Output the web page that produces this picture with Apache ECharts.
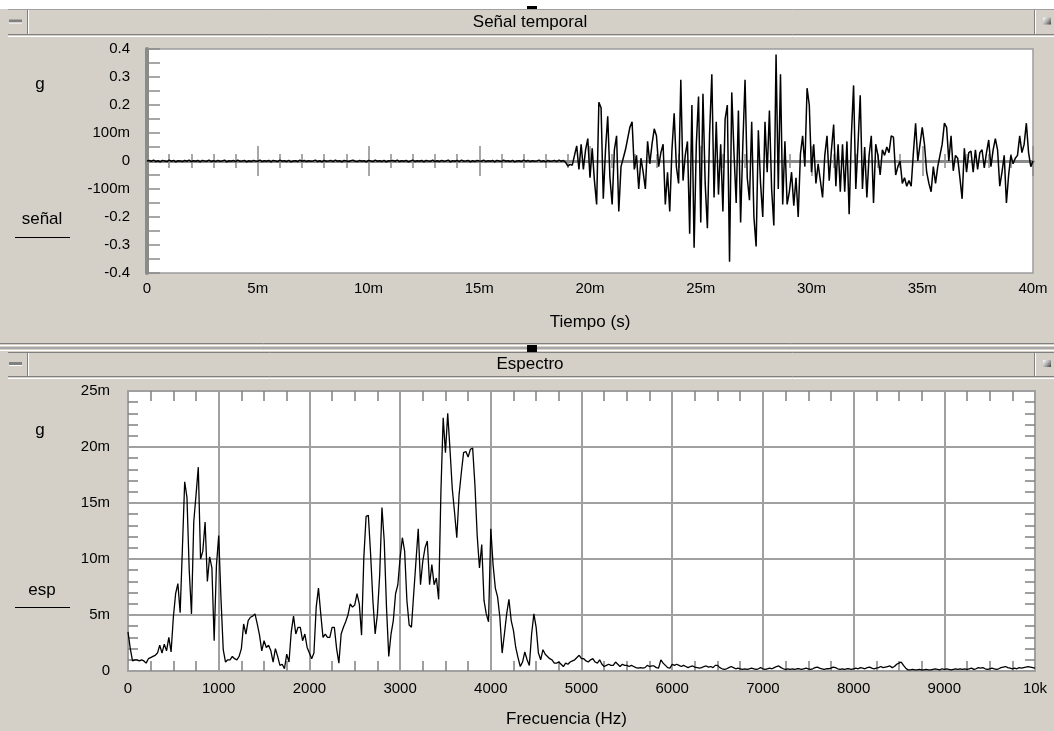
<!DOCTYPE html>
<html><head><meta charset="utf-8">
<script src="https://cdn.jsdelivr.net/npm/echarts@6/dist/echarts.min.js"></script>
<style>html,body{margin:0;padding:0;background:#d4d0c8;overflow:hidden}#c{width:1054px;height:731px}</style>
</head><body><div id="c"></div>
<script>
// ---- tick labels ----
const timeLabels = ['0','5m','10m','15m','20m','25m','30m','35m','40m'];
const sigYLabels = ['-0.4','-0.3','-0.2','-100m','0','100m','0.2','0.3','0.4'];
const freqLabels = ['0','1000','2000','3000','4000','5000','6000','7000','8000','9000','10k'];
const specYLabels = ['0','5m','10m','15m','20m','25m'];

// ---- time signal (mg), one value every 0.1 ms ----
const sigStepMs = 0.1;
const signalQuiet = [
0,2,-1,3,-2,1,-3,2,0,-2,3,-1,2,-3,1,0,-2,2,-1,3,
-2,1,-1,2,-3,2,0,-1,3,-2,1,-2,2,-1,0,3,-3,1,-1,2,
-2,3,-1,0,2,-3,1,-2,2,0,-1,3,-2,1,-1,2,-3,2,0,-2,
3,-1,1,-2,2,-3,0,1,-2,3,-1,2,-2,1,-1,0,3,-2,1,-3,
2,-1,0,2,-2,3,-1,1,-3,2,0,-2,1,3,-1,-2,2,-1,1,-3,
2,0,-2,3,-1,1,-2,2,-3,1,0,2,-1,3,-2,1,-1,2,-3,0,
3,-2,1,-1,2,-3,2,0,-1,3,-2,1,-2,2,-1,0,3,-3,1,-1,
2,-2,3,-1,0,2,-3,1,-2,2,0,-1,3,-2,1,-1,2,-3,2,0,
-2,3,-1,1,-2,2,-3,0,1,-2,3,-1,2,-2,1,-1,0,3,-2,1,
-3,2,-1,0,2,-2,3,-1
];
const signalActive = [
2,-5,
-18,-12,-15,20,54,-30,60,-30,40,80,
-60,45,-70,-155,210,190,-135,40,160,-60,
-155,40,90,-180,-20,10,40,80,120,140,
-30,20,-100,10,-40,-100,70,-10,60,115,
90,-20,30,60,-155,-40,-180,40,170,-20,
-80,290,-70,20,70,-260,200,-310,60,230,
-220,240,-80,-240,100,310,-130,140,-120,60,
-180,150,200,-360,245,30,-150,180,-220,60,
290,-60,-140,140,-200,-305,110,-80,-200,140,
-40,180,-100,-230,380,-100,310,-155,70,-155,
-110,-40,-160,-60,-200,25,90,-20,260,200,
-40,60,-80,-10,-70,-130,20,90,-70,40,
130,-90,60,-110,60,-110,70,-190,90,270,
-100,60,235,-100,50,-130,20,90,-150,60,
20,-50,40,20,50,30,90,85,-50,-20,
0,-80,-60,-90,-70,-90,30,135,0,60,
120,60,-40,-80,-110,-20,-80,-20,20,60,
135,120,0,90,-35,20,10,-60,-135,45,
-40,30,35,-40,40,-30,30,40,-25,30,
75,-20,40,80,40,-90,-40,20,-150,-50,
20,-10,10,20,90,30,60,135,30,-20,
0
];

// ---- spectrum (mg), one value every 25 Hz ----
const freqStepHz = 25;
const spectrumLow = [
3.5,2.0,0.9,1.0,1.0,0.9,1.0,0.9,0.7,1.1,
1.2,1.3,1.4,1.6,2.3,1.6,2.4,1.8,3.0,1.7,
4.8,6.9,7.8,5.2,11.0,16.9,15.5,9.0,5.1,13.3,
15.7,18.2,10.0,10.7,13.3,8.0,10.2,9.2,2.7,9.4,
12.1,6.5,1.9,0.8,1.0,1.0,1.3,1.1,1.0,1.3,
2.0,4.2,3.3,4.5,4.8,4.9,5.1,4.2,3.2,1.8,
2.7,2.1,2.3,1.8,0.8,2.0,1.3,0.5,0.6,0.2,
1.5,0.8,3.5,4.9,3.3,3.9,3.9,2.7,3.3,2.1,
1.6,1.1,1.6,5.7,7.4,5.1,3.0,3.3,3.0,3.0,
3.9,3.9,2.0,0.7,3.3,3.9,4.4,5.0,6.0,5.7,
5.9,6.9,6.0,3.2,10.1,13.8,13.9,10.4,6.3,3.3,
5.1,8.6,14.6,11.6,5.7,1.3,3.3,4.5,6.9,7.7,
10.1,11.9,10.7,6.3,4.1,3.9,6.9,9.8,12.7,7.7,
9.8,11.0,11.6,7.7,9.5,7.7,8.3,6.4,16.0,22.6,
19.5,23.0,19.8,16.3,14.2,11.9,15.7,17.7,19.5,19.6,
19.1,19.8,19.9,16.6,12.1,9.2,11.3,6.3,5.1,4.4,
12.7,9.5,7.4,6.6,4.8,1.6,3.3,5.1,6.4,4.5,
3.6,2.1,1.2,0.4,0.8,1.7,1.0,0.5,3.3,5.1,
3.9,1.6,1.0,1.9,1.5,1.3,1.1,1.0,0.7,0.7,
0.8,0.6,0.4,0.7,0.6,0.8,0.9,1.0,1.2,1.4
];
const spectrumHigh = [
1.1,1.1,0.9,0.8,1.0,1.1,0.8,0.7,1.0,0.6,
0.4,0.5,0.6,0.5,0.5,0.8,0.6,0.4,0.6,0.5,
0.5,0.4,0.5,0.4,0.3,0.25,0.3,0.25,0.3,0.5,
0.4,0.45,0.45,0.3,0.25,1.0,0.7,0.5,0.3,0.25,
0.6,0.5,0.6,0.5,0.4,0.5,0.4,0.3,0.4,0.45,
0.35,0.3,0.25,0.3,0.4,0.45,0.35,0.4,0.3,0.5,
0.5,0.3,0.2,0.15,0.2,0.3,0.4,0.3,0.2,0.25,
0.2,0.15,0.2,0.15,0.2,0.25,0.2,0.15,0.2,0.3,
0.2,0.15,0.2,0.25,0.2,0.3,0.4,0.45,0.3,0.2,
0.15,0.2,0.15,0.2,0.15,0.2,0.2,0.15,0.2,0.25,
0.2,0.15,0.2,0.3,0.35,0.25,0.2,0.15,0.2,0.2,
0.25,0.35,0.3,0.2,0.15,0.2,0.15,0.2,0.2,0.15,
0.2,0.25,0.2,0.3,0.25,0.2,0.3,0.35,0.25,0.2,
0.25,0.3,0.4,0.3,0.35,0.4,0.45,0.3,0.4,0.6,
0.7,0.8,0.5,0.25,0.1,0.1,0.15,0.1,0.1,0.15,
0.1,0.1,0.15,0.1,0.1,0.15,0.2,0.15,0.1,0.2,
0.15,0.2,0.15,0.1,0.15,0.2,0.15,0.2,0.15,0.2,
0.15,0.2,0.25,0.15,0.2,0.3,0.25,0.3,0.2,0.15,
0.2,0.25,0.2,0.15,0.2,0.3,0.35,0.4,0.3,0.25,
0.2,0.25,0.2,0.3,0.25,0.3,0.35,0.4,0.35,0.3,
0.25
];

const signal = signalQuiet.concat(signalActive);
const spectrum = spectrumLow.concat(spectrumHigh);
const sigData = signal.map((v, i) => [Math.round(i * sigStepMs * 100) / 100, v]);
const specData = spectrum.map((v, i) => [i * freqStepHz, v]);

const FONT = '"Liberation Sans", Arial, sans-serif';
const GRAY = '#8a8a8a';
const TICK = '#808080';

function hline(x1, x2, y, color, w) {
  return { type: 'line', silent: true, shape: { x1: x1, y1: y, x2: x2, y2: y }, style: { stroke: color, lineWidth: w || 1 } };
}
function vline(x, y1, y2, color) {
  return { type: 'line', silent: true, shape: { x1: x, y1: y1, x2: x, y2: y2 }, style: { stroke: color, lineWidth: 1 } };
}
function box(x, y, w, h, fill) {
  return { type: 'rect', silent: true, shape: { x: x, y: y, width: w, height: h }, style: { fill: fill } };
}
function txt(x, y, s, size) {
  return { type: 'text', silent: true, x: x, y: y, style: { text: s, font: (size || 17) + 'px ' + FONT, fill: '#000', align: 'center', verticalAlign: 'middle' } };
}
function icon(x, y) {
  return { type: 'rect', silent: true, shape: { x: x, y: y, width: 8, height: 7 },
    style: { fill: new echarts.graphic.LinearGradient(0, 0, 1, 1, [{ offset: 0, color: '#ffffff' }, { offset: 0.5, color: '#b0b0b0' }, { offset: 1, color: '#404040' }]) } };
}
function titleBar(yTop, yBot, title) {
  const els = [];
  els.push(hline(8, 1054, yBot + 0.5, '#808080'));
  els.push(hline(8, 1054, yBot + 2.5, '#ffffff'));
  els.push(vline(27.5, yTop + 1, yBot, '#808080'));
  els.push(vline(28.5, yTop + 1, yBot, '#ffffff'));
  els.push(vline(1034.5, yTop + 1, yBot, '#808080'));
  els.push(vline(1035.5, yTop + 1, yBot, '#ffffff'));
  els.push(box(9, (yTop + yBot) / 2 - 2, 13, 3, '#808080'));
  els.push(box(9, (yTop + yBot) / 2 + 1, 13, 1, '#ffffff'));
  els.push(icon(1043, (yTop + yBot) / 2 - 4));
  els.push(txt(530, (yTop + yBot) / 2 + 0.5, title, 17));
  return els;
}

const graphics = [
  box(0, 0, 1054, 9, '#ffffff'),
  hline(8, 1054, 9.5, '#a0a0a0'),
  box(527, 6, 10, 3, '#000000'),
  hline(0, 1054, 343.5, '#808080'),
  hline(0, 1054, 345.5, '#ffffff'),
  hline(0, 1054, 348, '#a8a8a8', 2),
  hline(0, 1054, 350.5, '#ffffff'),
  hline(8, 1054, 352.5, '#808080'),
  box(527, 345, 10, 7, '#000000'),
  txt(40, 84, 'g', 17),
  txt(42, 219, 'señal', 17),
  hline(15, 70, 237.5, '#000000'),
  txt(40, 430, 'g', 17),
  txt(42, 590, 'esp', 17),
  hline(15, 70, 607.5, '#000000')
].concat(titleBar(9, 34, 'Señal temporal'), titleBar(352, 376, 'Espectro'));

const lbl = { color: '#000', fontSize: 15, fontFamily: FONT };

const option = {
  animation: false,
  backgroundColor: '#d4d0c8',
  textStyle: { fontFamily: FONT },
  graphic: { elements: graphics },
  grid: [
    { left: 147, right: 21, top: 49, bottom: 458, show: true, backgroundColor: '#ffffff', borderColor: '#9c9c9c', borderWidth: 1.5, containLabel: false, outerBoundsMode: 'none' },
    { left: 128, right: 19, top: 391, bottom: 60, show: true, backgroundColor: '#ffffff', borderColor: '#a0a0a0', borderWidth: 2, containLabel: false, outerBoundsMode: 'none' }
  ],
  xAxis: [
    { gridIndex: 0, type: 'value', min: 0, max: 40, interval: 5, position: 'bottom',
      axisLine: { show: false, onZero: false }, axisTick: { show: false }, splitLine: { show: false },
      axisLabel: Object.assign({ margin: 8, formatter: v => timeLabels[Math.round(v / 5)] }, lbl),
      name: 'Tiempo (s)', nameLocation: 'middle', nameGap: 41,
      nameTextStyle: { color: '#000', fontSize: 17, fontFamily: FONT } },
    { gridIndex: 0, type: 'value', min: 0, max: 40, interval: 5, position: 'bottom',
      axisLine: { show: true, onZero: true, onZeroAxisIndex: 0, lineStyle: { color: GRAY, width: 3 } },
      axisTick: { show: true, inside: true, length: 15, lineStyle: { color: GRAY, width: 1.5 } },
      minorTick: { show: true, splitNumber: 5, length: 7, lineStyle: { color: GRAY, width: 1.5 } },
      axisLabel: { show: false }, splitLine: { show: false } },
    { gridIndex: 0, type: 'value', min: 0, max: 40, interval: 5, position: 'bottom',
      axisLine: { show: true, onZero: true, onZeroAxisIndex: 0, lineStyle: { color: GRAY, width: 3 } },
      axisTick: { show: true, inside: false, length: 15, lineStyle: { color: GRAY, width: 1.5 } },
      minorTick: { show: true, splitNumber: 5, length: 7, lineStyle: { color: GRAY, width: 1.5 } },
      axisLabel: { show: false }, splitLine: { show: false } },
    { gridIndex: 1, type: 'value', min: 0, max: 10000, interval: 1000, position: 'bottom',
      axisLine: { show: false, onZero: false }, axisTick: { show: false, inside: true },
      minorTick: { show: true, splitNumber: 4, length: 10, lineStyle: { color: TICK, width: 1.5 } },
      splitLine: { show: true, lineStyle: { color: '#a0a0a0', width: 2 } },
      axisLabel: Object.assign({ margin: 10, formatter: v => freqLabels[Math.round(v / 1000)] }, lbl),
      name: 'Frecuencia (Hz)', nameLocation: 'middle', nameGap: 40,
      nameTextStyle: { color: '#000', fontSize: 17, fontFamily: FONT, padding: [0, 30, 0, 0] } },
    { gridIndex: 1, type: 'value', min: 0, max: 10000, interval: 1000, position: 'top',
      axisLine: { show: false, onZero: false }, axisTick: { show: false, inside: true },
      minorTick: { show: true, splitNumber: 4, length: 10, lineStyle: { color: TICK, width: 1.5 } },
      splitLine: { show: false }, axisLabel: { show: false } }
  ],
  yAxis: [
    { gridIndex: 0, type: 'value', min: -400, max: 400, interval: 100, position: 'left',
      axisLine: { show: true, onZero: false, lineStyle: { color: GRAY, width: 4 } },
      axisTick: { show: true, inside: true, length: 13, lineStyle: { color: GRAY, width: 1.5 } },
      minorTick: { show: true, splitNumber: 2, length: 13, lineStyle: { color: GRAY, width: 1.5 } },
      splitLine: { show: false },
      axisLabel: Object.assign({ margin: 17, formatter: v => sigYLabels[Math.round((v + 400) / 100)] }, lbl) },
    { gridIndex: 1, type: 'value', min: 0, max: 25, interval: 5, position: 'left',
      axisLine: { show: false, onZero: false }, axisTick: { show: false, inside: true },
      minorTick: { show: true, splitNumber: 5, length: 10, lineStyle: { color: TICK, width: 1.5 } },
      splitLine: { show: true, lineStyle: { color: '#a0a0a0', width: 2 } },
      axisLabel: Object.assign({ margin: 18, formatter: v => specYLabels[Math.round(v / 5)] }, lbl) },
    { gridIndex: 1, type: 'value', min: 0, max: 25, interval: 5, position: 'right',
      axisLine: { show: false, onZero: false }, axisTick: { show: false, inside: true },
      minorTick: { show: true, splitNumber: 5, length: 10, lineStyle: { color: TICK, width: 1.5 } },
      splitLine: { show: false }, axisLabel: { show: false } }
  ],
  series: [
    { type: 'line', name: 'señal', xAxisIndex: 0, yAxisIndex: 0, data: sigData, showSymbol: false, symbol: 'none',
      silent: true, lineStyle: { color: '#000', width: 1.5 }, itemStyle: { color: '#000' }, z: 5 },
    { type: 'line', name: 'esp', xAxisIndex: 3, yAxisIndex: 1, data: specData, showSymbol: false, symbol: 'none',
      silent: true, lineStyle: { color: '#000', width: 1.3 }, itemStyle: { color: '#000' }, z: 5 }
  ]
};

const chart = echarts.init(document.getElementById('c'), null, { renderer: 'canvas' });
chart.setOption(option);
</script>
</body></html>
